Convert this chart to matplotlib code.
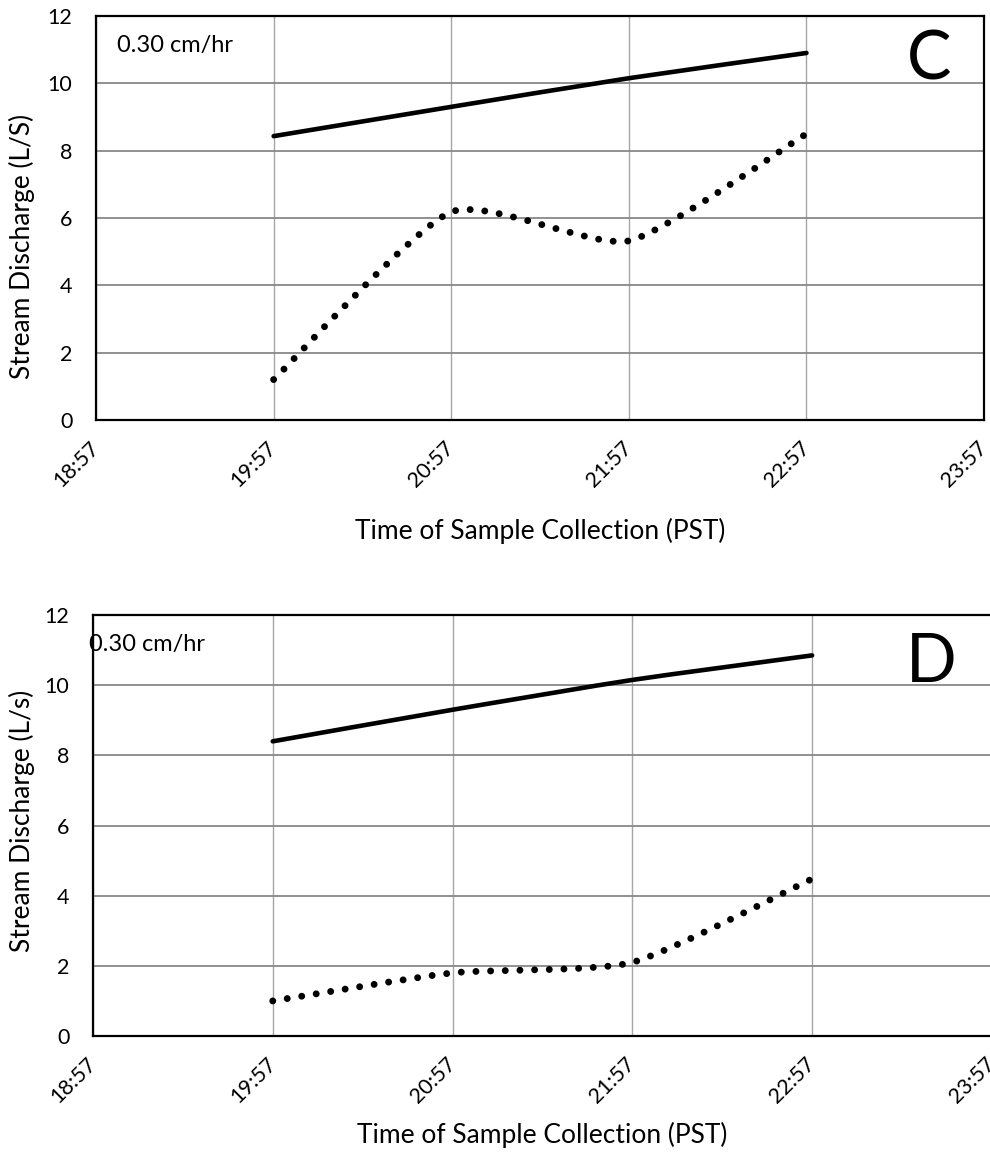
import matplotlib.pyplot as plt
from matplotlib.path import Path
from matplotlib.patches import PathPatch

plt.rcParams['font.family'] = ['Lato', 'DejaVu Sans']

# axis ticks (one hour apart)
time_ticks = ['18:57', '19:57', '20:57', '21:57', '22:57', '23:57']
sample_times = ['19:57', '20:57', '21:57', '22:57']

# panel C
c_solid = [8.43, 9.3, 10.15, 10.9]
c_dotted = [1.2, 6.18, 5.32, 8.5]
# panel D
d_solid = [8.4, 9.3, 10.15, 10.85]
d_dotted = [1.0, 1.8, 2.1, 4.48]

x_samples = [time_ticks.index(t) for t in sample_times]

TENSION = 0.1


def smooth_path(xs, ys):
    # excel-style smoothed line: cubic bezier through the points
    verts = [(xs[0], ys[0])]
    codes = [Path.MOVETO]
    n = len(xs)
    k = TENSION
    for i in range(n - 1):
        x0, y0 = (xs[i - 1], ys[i - 1]) if i > 0 else (xs[i], ys[i])
        x1, y1 = xs[i], ys[i]
        x2, y2 = xs[i + 1], ys[i + 1]
        x3, y3 = (xs[i + 2], ys[i + 2]) if i + 2 < n else (x2, y2)
        verts += [(x1 + (x2 - x0) * k, y1 + (y2 - y0) * k),
                  (x2 - (x3 - x1) * k, y2 - (y3 - y1) * k),
                  (x2, y2)]
        codes += [Path.CURVE4] * 3
    return Path(verts, codes)


def panel(ax, solid, dotted, ylabel, letter, note_xy, letter_xy, right_spine=True):
    ax.set_xlim(0, 5)
    ax.set_ylim(0, 12)
    ax.set_xticks(range(len(time_ticks)))
    ax.set_xticklabels(time_ticks, rotation=45, ha='right', va='center',
                       rotation_mode='anchor')
    ax.set_yticks(range(0, 13, 2))
    ax.tick_params(length=0, labelsize=15.5)
    ax.tick_params(axis='x', pad=18)
    ax.tick_params(axis='y', pad=17)
    ax.grid(axis='y', color='#888888', lw=1.3)
    ax.grid(axis='x', color='#a6a6a6', lw=1.0)
    ax.set_axisbelow(True)
    for s in ['left', 'bottom', 'top', 'right']:
        ax.spines[s].set_linewidth(1.6)
        ax.spines[s].set_color('black')
    ax.spines['right'].set_visible(right_spine)

    ax.add_patch(PathPatch(smooth_path(x_samples, solid), fill=False,
                           edgecolor='black', lw=3.3, capstyle='round',
                           joinstyle='round'))
    ax.add_patch(PathPatch(smooth_path(x_samples, dotted), fill=False,
                           edgecolor='black', lw=5.0, capstyle='round',
                           linestyle=(0, (0.001, 2.112))))

    ax.set_xlabel('Time of Sample Collection (PST)', fontsize=19, va='center')
    ax.set_ylabel(ylabel, fontsize=19, va='center')
    ax.text(note_xy[0], note_xy[1], '0.30 cm/hr', transform=ax.transAxes,
            fontsize=17, va='center', ha='left')
    ax.text(letter_xy[0], letter_xy[1], letter, transform=ax.transAxes,
            fontsize=48, va='center', ha='center')


fig = plt.figure(figsize=(9.9, 11.55), dpi=100)
ax_c = fig.add_axes([0.097, 0.6364, 0.897, 0.3498])
ax_d = fig.add_axes([0.0939, 0.103, 0.908, 0.3645])

panel(ax_c, c_solid, c_dotted, 'Stream Discharge (L/S)', 'C',
      (0.024, 0.926), (0.938, 0.89))
panel(ax_d, d_solid, d_dotted, 'Stream Discharge (L/s)', 'D',
      (-0.004, 0.929), (0.933, 0.885), right_spine=False)

ax_c.xaxis.set_label_coords(0.5, -0.275)
ax_c.yaxis.set_label_coords(-0.083, 0.43)
ax_d.xaxis.set_label_coords(0.5, -0.235)
ax_d.yaxis.set_label_coords(-0.079, 0.51)

fig.savefig('out.png', dpi=100)
